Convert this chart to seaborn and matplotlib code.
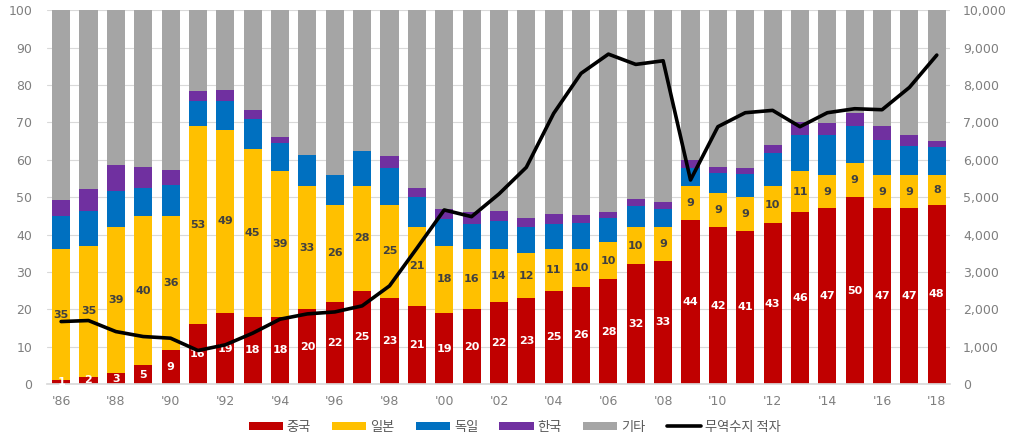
import numpy as np
import pandas as pd
import matplotlib
matplotlib.use("Agg")
import matplotlib.pyplot as plt
from matplotlib.patches import Patch
from matplotlib.lines import Line2D
from matplotlib.ticker import FuncFormatter, MultipleLocator
import seaborn as sns

years = list(range(1986, 2019))
china = [1, 2, 3, 5, 9, 16, 19, 18, 18, 20, 22, 25, 23, 21, 19, 20, 22, 23, 25, 26, 28,
         32, 33, 44, 42, 41, 43, 46, 47, 50, 47, 47, 48]
japan = [35, 35, 39, 40, 36, 53, 49, 45, 39, 33, 26, 28, 25, 21, 18, 16, 14, 12, 11, 10, 10,
         10, 9, 9, 9, 9, 10, 11, 9, 9, 9, 9, 8]
germany = [9.0, 9.3, 9.6, 7.5, 8.3, 6.7, 7.7, 7.9, 7.5, 8.2, 7.8, 9.3, 9.9, 8.0, 7.2, 6.7,
           7.5, 6.9, 6.7, 7.0, 6.5, 5.7, 4.8, 4.9, 5.5, 6.3, 8.8, 9.6, 10.6, 10.1, 9.4, 7.8, 7.3]
korea = [4.2, 5.9, 7.1, 5.6, 4.0, 2.7, 2.9, 2.4, 1.6, 0.0, 0.0, 0.0, 3.1, 2.5, 2.6, 3.3,
         2.8, 2.4, 2.8, 2.2, 1.6, 1.7, 1.8, 2.1, 1.6, 1.6, 2.2, 3.4, 3.3, 3.5, 3.6, 2.8, 1.8]
deficit = [1673, 1700, 1405, 1272, 1228, 899, 1050, 1362, 1736, 1878, 1930, 2092, 2626, 3633,
           4657, 4478, 5084, 5797, 7240, 8309, 8824, 8549, 8646, 5458, 6883, 7257, 7320, 6883,
           7257, 7364, 7337, 7934, 8798]
tick_labels = [f"'{y % 100:02d}" for y in years]

series_names = ["중국", "일본", "독일", "한국", "기타"]
line_name = "무역수지 적자"
colors = {"중국": "#C00000", "일본": "#FFC000", "독일": "#0070C0", "한국": "#7030A0", "기타": "#A5A5A5"}

df = pd.DataFrame({"year": [str(y) for y in years], "중국": china, "일본": japan,
                   "독일": germany, "한국": korea})
df["기타"] = 100 - df[["중국", "일본", "독일", "한국"]].sum(axis=1)
cum = df[series_names].cumsum(axis=1)

sns.set_theme(style="white")
plt.rcParams["font.family"] = ["DejaVu Sans", "Noto Sans CJK KR"]

fig, ax = plt.subplots(figsize=(10.09, 4.41), dpi=100)
fig.subplots_adjust(left=0.047, right=0.942, top=0.977, bottom=0.129)

for name in reversed(series_names):
    sns.barplot(x=df["year"], y=cum[name], color=colors[name], width=0.66,
                saturation=1, ax=ax, linewidth=0, zorder=2)

pos = np.arange(len(years))
for i in range(len(years)):
    c = china[i]
    j = japan[i]
    ax.text(pos[i], c / 2, f"{c}", ha="center", va="center", color="white",
            fontsize=8, fontweight="bold", zorder=5)
    ax.text(pos[i], c + j / 2, f"{j}", ha="center", va="center", color="#404040",
            fontsize=8, fontweight="bold", zorder=5)

tick_color = "#7F7F7F"
ax.set_ylim(0, 100)
ax.set_xlim(-0.5, len(years) - 0.5)
ax.yaxis.set_major_locator(MultipleLocator(10))
ax.grid(axis="y", color="#D9D9D9", linewidth=0.8, zorder=0)
ax.set_axisbelow(True)
ax.set_xticks(pos[::2])
ax.set_xticklabels(tick_labels[::2])
ax.set_xlabel("")
ax.set_ylabel("")
for s in ["top", "right", "left"]:
    ax.spines[s].set_visible(False)
ax.spines["bottom"].set_color("#D9D9D9")
ax.tick_params(axis="y", labelsize=9, colors=tick_color, length=0, pad=11)
ax.tick_params(axis="x", labelsize=9, colors=tick_color, length=0, pad=8)

ax2 = ax.twinx()
sns.lineplot(x=pos, y=deficit, ax=ax2, color="black", linewidth=2.6, zorder=6)
ax2.set_ylim(0, 10000)
ax2.yaxis.set_major_locator(MultipleLocator(1000))
ax2.yaxis.set_major_formatter(FuncFormatter(lambda v, p: f"{int(v):,}"))
for s in ["top", "right", "left", "bottom"]:
    ax2.spines[s].set_visible(False)
ax2.tick_params(axis="y", labelsize=9, colors=tick_color, length=0, pad=9)
ax2.grid(False)
ax2.set_ylabel("")

handles = [Patch(facecolor=colors[n], edgecolor="none") for n in series_names]
handles.append(Line2D([0], [0], color="black", linewidth=2.6))
leg = fig.legend(handles, series_names + [line_name], loc="lower center",
                 bbox_to_anchor=(0.51, -0.01), ncol=6, frameon=False,
                 fontsize=9.5, handlelength=2.6, handleheight=0.55,
                 handletextpad=0.3, columnspacing=1.6)
for t in leg.get_texts():
    t.set_color("#595959")
    t.set_fontfamily(["Noto Sans CJK KR", "DejaVu Sans"])

fig.savefig("out.png", dpi=100)
